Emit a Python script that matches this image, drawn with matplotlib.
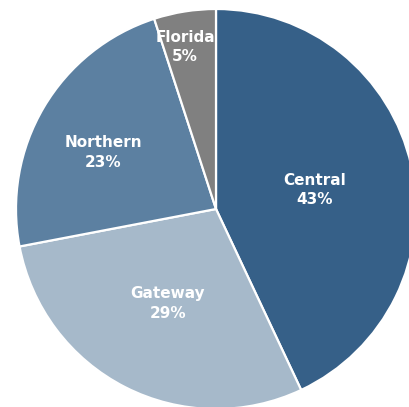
import numpy as np
import matplotlib
matplotlib.use("Agg")
import matplotlib.pyplot as plt

regions = ["Central", "Gateway", "Northern", "Florida"]
shares = [43, 29, 23, 5]
colors = ["#366088", "#a6b9ca", "#5c80a1", "#808080"]

# label placement: distance from centre and small angular nudge (deg)
label_radius = [0.50, 0.53, 0.63, 0.825]
label_shift = [-1.5, 0, 4, 1.8]

fig = plt.figure(figsize=(4.09, 4.07), dpi=100)
ax = fig.add_axes([0, 0, 1, 1])

wedges, _ = ax.pie(
    shares,
    colors=colors,
    startangle=90,
    counterclock=False,
    radius=1.0,
    wedgeprops=dict(edgecolor="white", linewidth=1.6),
)

for wedge, name, share, r, shift in zip(wedges, regions, shares, label_radius, label_shift):
    mid = np.deg2rad((wedge.theta1 + wedge.theta2) / 2 + shift)
    ax.text(
        r * np.cos(mid), r * np.sin(mid), f"{name}\n{share}%",
        ha="center", va="center", color="white",
        fontsize=11, fontweight="bold", linespacing=1.35,
    )

ax.set_xlim(-1.08, 0.965)
ax.set_ylim(-0.99, 1.045)
ax.set_aspect("equal")
ax.axis("off")

fig.savefig("out.png", dpi=100)
